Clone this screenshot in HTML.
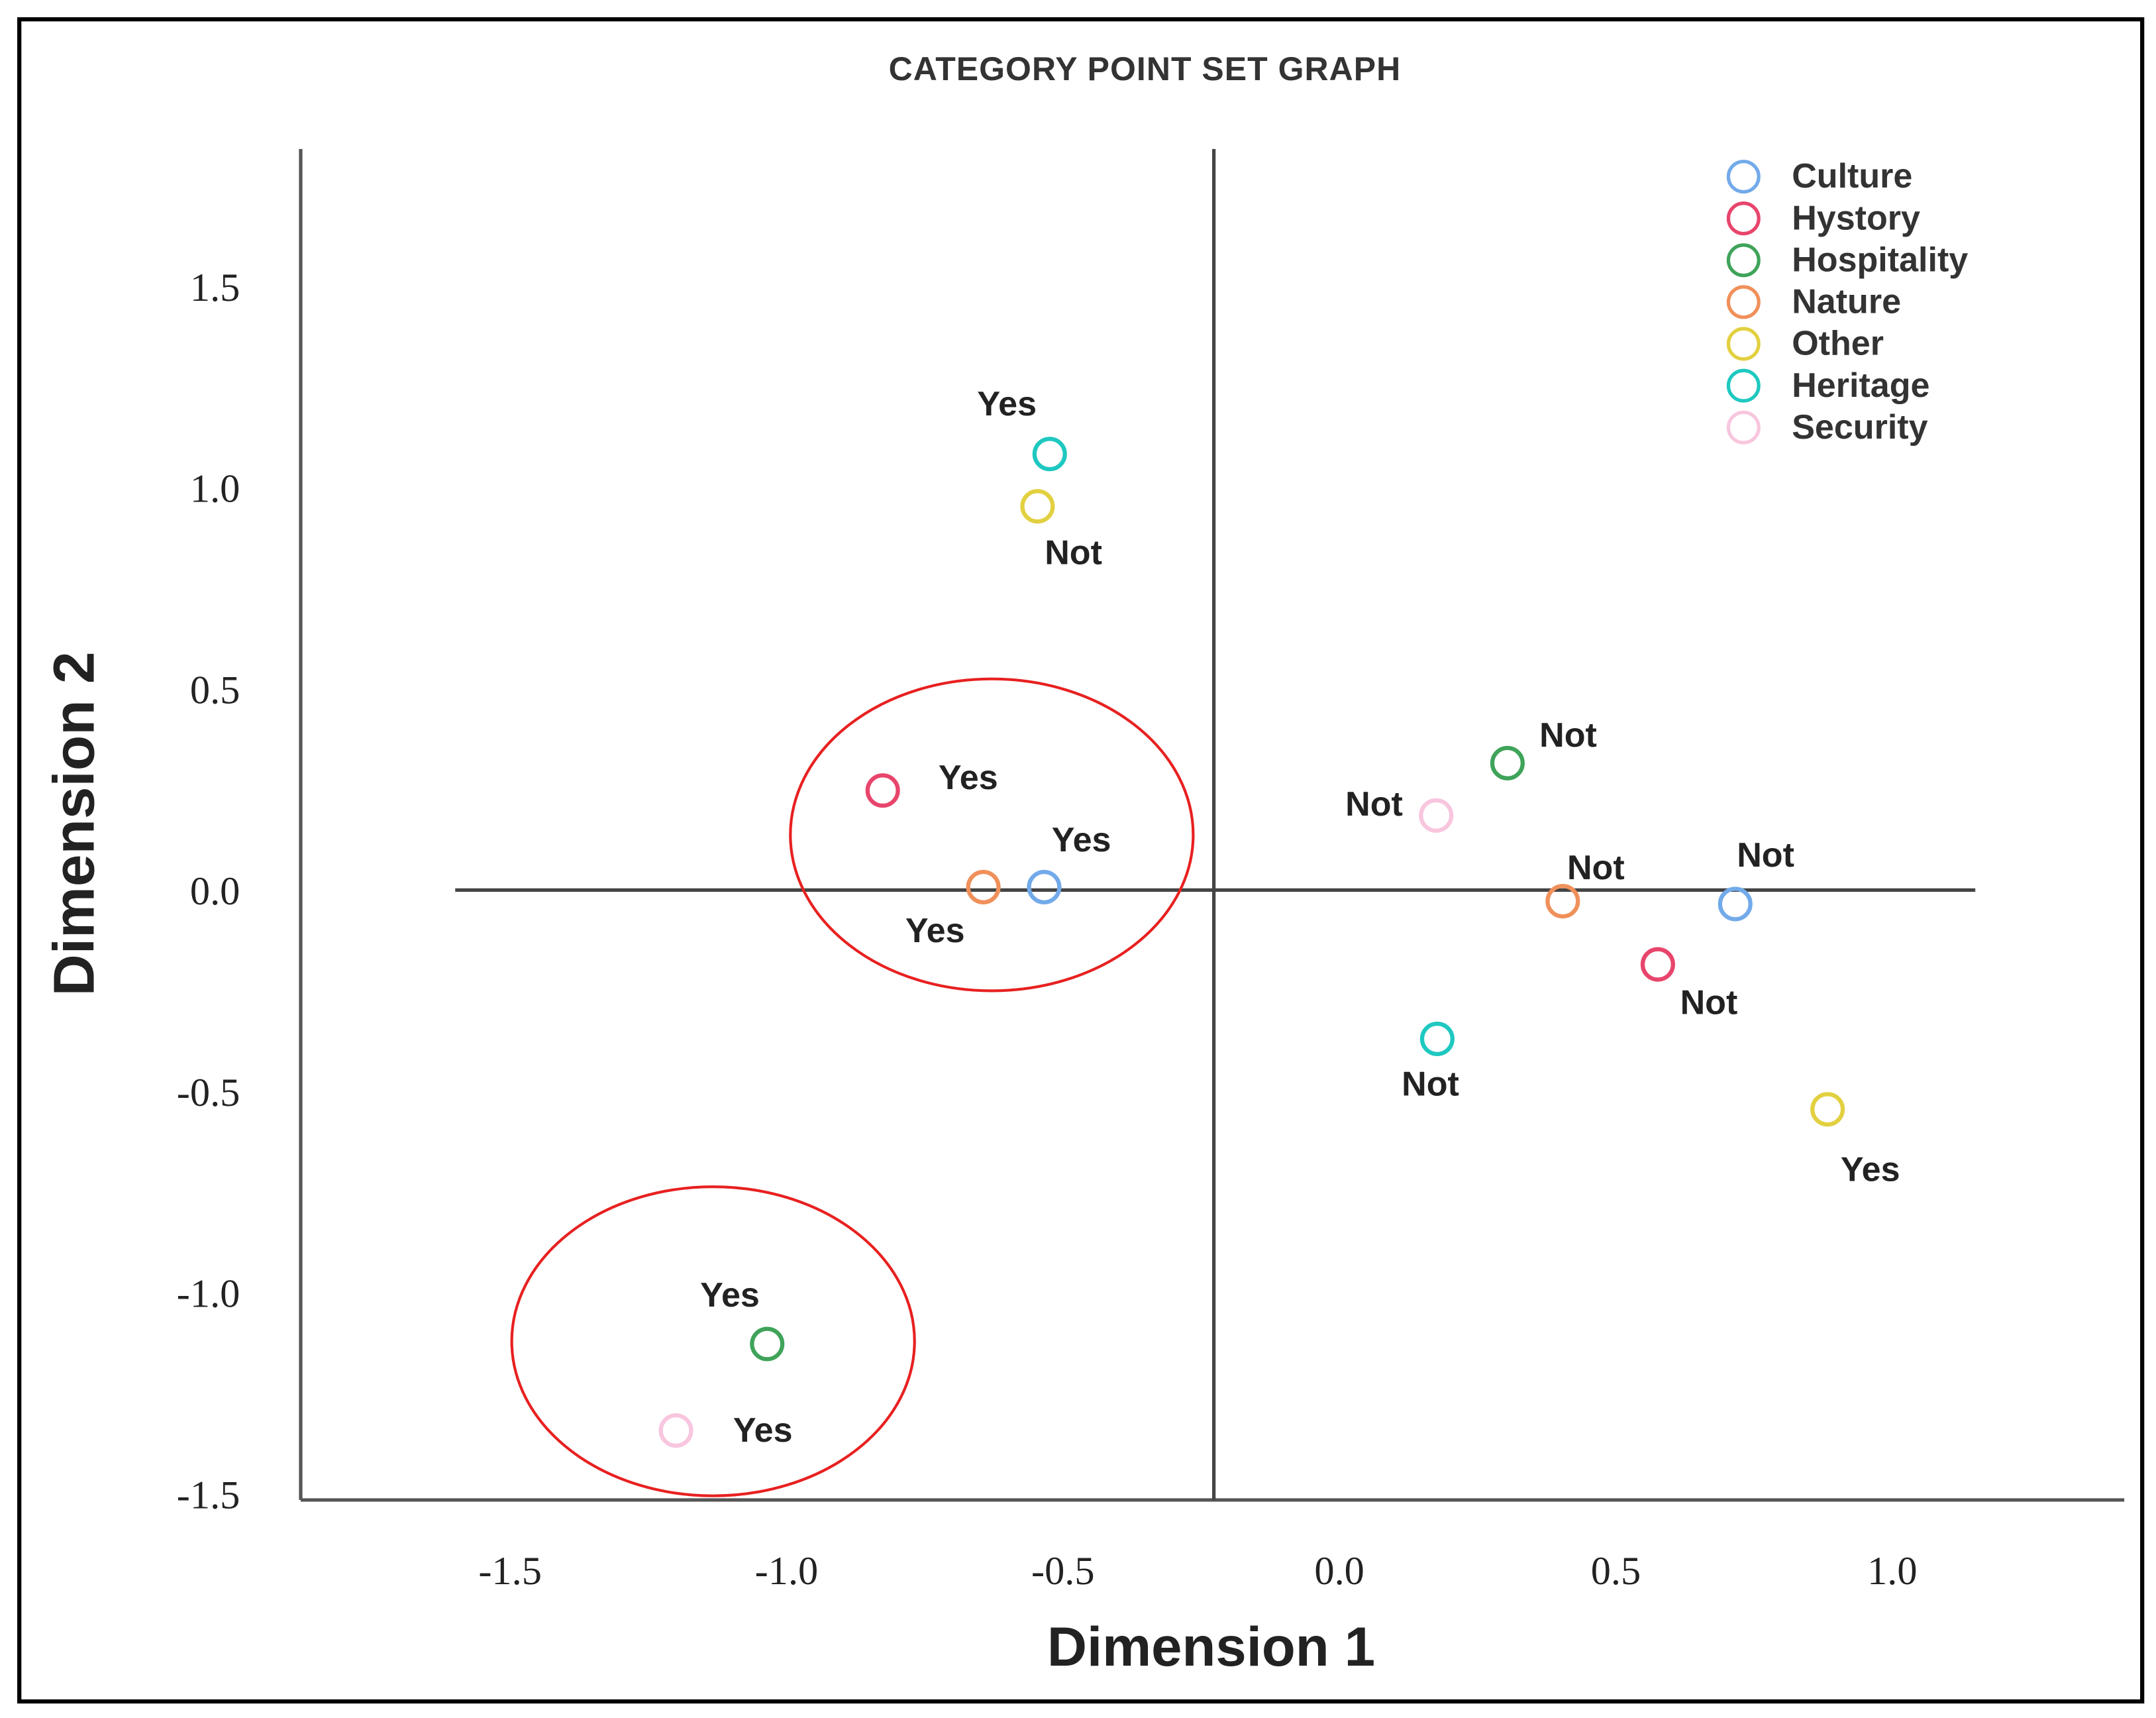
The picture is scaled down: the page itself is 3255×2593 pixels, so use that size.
<!DOCTYPE html>
<html><head><meta charset="utf-8"><style>
html,body{margin:0;padding:0;background:#fff}
svg{display:block}
</style></head><body>
<svg id="chart" width="3255" height="2593" viewBox="0 0 1563 1245" preserveAspectRatio="none" xmlns="http://www.w3.org/2000/svg">
<rect x="14" y="14" width="1539" height="1219" fill="#fff" stroke="#000" stroke-width="3"/>
<text x="830" y="58" text-anchor="middle" font-family="Liberation Sans, sans-serif" font-size="24" font-weight="bold" fill="#333" letter-spacing="0.5">CATEGORY POINT SET GRAPH</text>
<line x1="218" y1="108" x2="218" y2="1087" stroke="#555" stroke-width="2.5"/>
<line x1="218" y1="1087" x2="1540" y2="1087" stroke="#555" stroke-width="2.5"/>
<line x1="880" y1="108" x2="880" y2="1087" stroke="#444" stroke-width="2.5"/>
<line x1="330" y1="645" x2="1432" y2="645" stroke="#444" stroke-width="2.5"/>
<text transform="translate(68,597) rotate(-90)" text-anchor="middle" font-family="Liberation Sans, sans-serif" font-size="42" font-weight="bold" fill="#222">Dimension 2</text>
<text x="878" y="1207" text-anchor="middle" font-family="Liberation Sans, sans-serif" font-size="40" font-weight="bold" fill="#222">Dimension 1</text>
<ellipse cx="719" cy="605" rx="146" ry="113" fill="none" stroke="#e82020" stroke-width="2"/>
<ellipse cx="517" cy="972" rx="146" ry="112" fill="none" stroke="#e82020" stroke-width="2"/>
<g id="ticks"></g><g id="points"></g><g id="legend"></g>
</svg>
<script>
const xTickLabels=["-1.5","-1.0","-0.5","0.0","0.5","1.0"];
const xTickValues=[-1.5,-1.0,-0.5,0.0,0.5,1.0];
const yTickLabels=["1.5","1.0","0.5","0.0","-0.5","-1.0","-1.5"];
const yTickValues=[1.5,1.0,0.5,0.0,-0.5,-1.0,-1.5];
const categories=["Culture","Hystory","Hospitality","Nature","Other","Heritage","Security"];
const pointCategory=["Heritage","Other","Hystory","Nature","Culture","Hospitality","Security","Nature","Culture","Hystory","Heritage","Other","Hospitality","Security"];
const pointLabel=["Yes","Not","Yes","Yes","Yes","Not","Not","Not","Not","Not","Not","Yes","Yes","Yes"];
const dim1=[-0.524,-0.546,-0.826,-0.644,-0.534,0.304,0.175,0.404,0.716,0.576,0.177,0.883,-1.035,-1.20];
const dim2=[1.085,0.955,0.249,0.009,0.009,0.317,0.187,-0.026,-0.033,-0.183,-0.368,-0.543,-1.126,-1.341];
const labelDx=[-31,26,62,-35,27,44,-45,24,22,37,-5,31,-27,63];
const labelDy=[-37,33,-10,31,-35,-21,-9,-25,-36,27,32,43,-36,-1];
const colors={Culture:"#72aaea",Hystory:"#e8456c",Hospitality:"#3fa35a",Nature:"#f0905a",Other:"#e2d040",Heritage:"#1ec8c0",Security:"#f8c6de"};
const NS="http://www.w3.org/2000/svg";
const xs=v=>971+v*400.8, ys=v=>645.5-v*291.7;
function mk(t,a,p){const e=document.createElementNS(NS,t);for(const k in a)e.setAttribute(k,a[k]);p.appendChild(e);return e;}
const ticks=document.getElementById('ticks');
xTickValues.forEach((v,i)=>{const t=mk('text',{x:xs(v),y:1148,'text-anchor':'middle','font-family':'Liberation Serif, serif','font-size':29,fill:'#222'},ticks);t.textContent=xTickLabels[i];

});
yTickValues.forEach((v,i)=>{const t=mk('text',{x:174,y:ys(v)+10,'text-anchor':'end','font-family':'Liberation Serif, serif','font-size':29,fill:'#222'},ticks);t.textContent=yTickLabels[i];

});
const pts=document.getElementById('points');
dim1.forEach((v,i)=>{const cx=xs(v),cy=ys(dim2[i]);
const c=mk('circle',{cx:cx,cy:cy,r:11,fill:'none',stroke:colors[pointCategory[i]],'stroke-width':3},pts);


const t=mk('text',{x:cx+labelDx[i],y:cy+labelDy[i]+9,'text-anchor':'middle','font-family':'Liberation Sans, sans-serif','font-size':25,'font-weight':'bold',fill:'#222'},pts);
t.textContent=pointLabel[i];

});
const lg=document.getElementById('legend');
categories.forEach((c,i)=>{const y=128+i*30.3;
const m=mk('circle',{cx:1264,cy:y,r:11,fill:'none',stroke:colors[c],'stroke-width':2.5},lg);


const t=mk('text',{x:1299,y:y+8,'font-family':'Liberation Sans, sans-serif','font-size':25,'font-weight':'bold',fill:'#333'},lg);
t.textContent=c;

});
</script>
</body></html>
